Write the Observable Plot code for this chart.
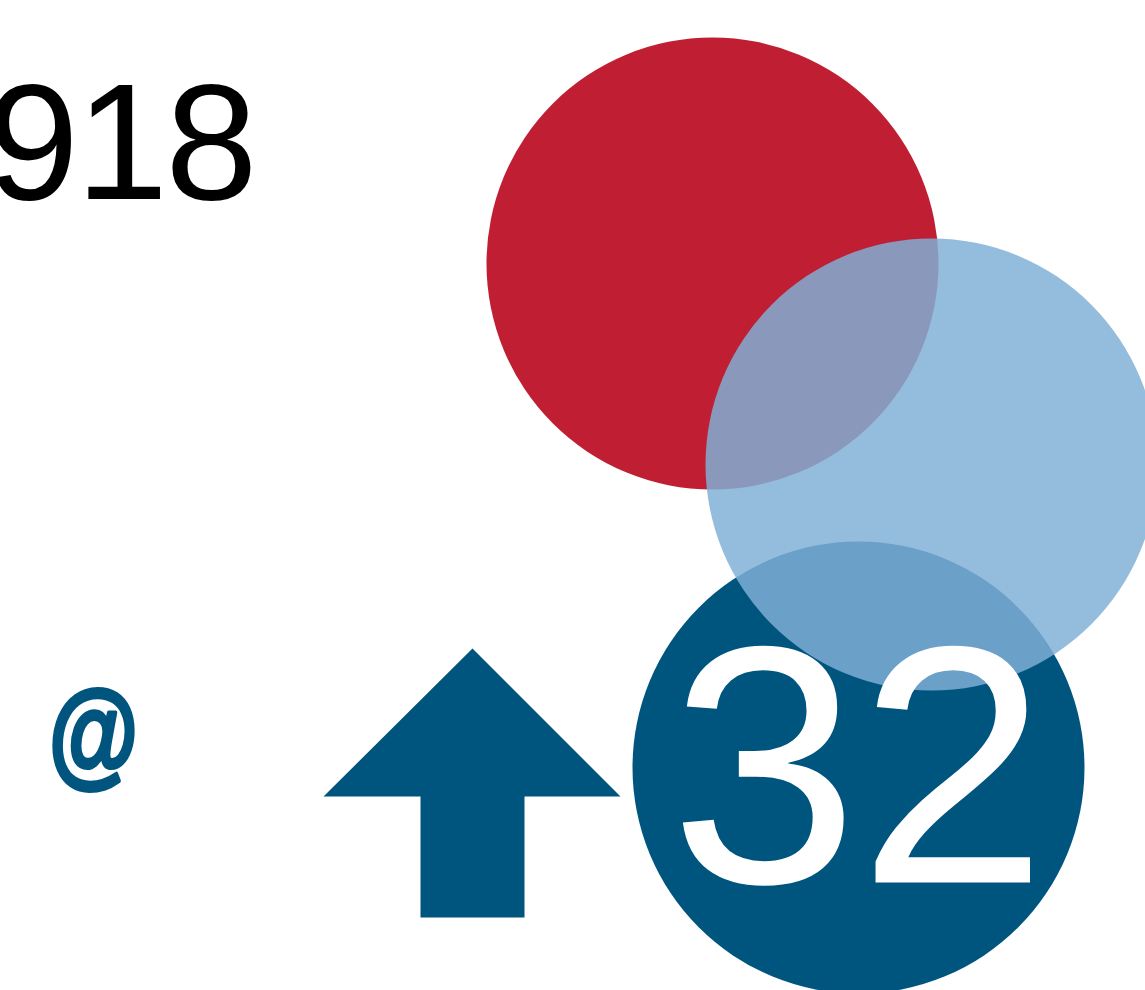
<!DOCTYPE html>
<html>
<head>
<meta charset="utf-8">
<script src="https://cdn.jsdelivr.net/npm/d3@7"></script>
<script src="https://cdn.jsdelivr.net/npm/@observablehq/plot@0.6"></script>
<style>
  html, body { margin: 0; padding: 0; background: #ffffff; }
  #chart svg { display: block; }
  g.lbl-n918 text { letter-spacing: -3px; }
</style>
</head>
<body>
<div id="chart"></div>
<script>
// Circles (drawn in order: red, dark blue, light translucent blue)
const circleNames = ["red", "darkBlue", "lightBlue"];
const circleCx = [712, 858, 931];
const circleCy = [263, 767, 464];
const circleR = [226, 226, 226];
const circleFill = ["#c01f33", "#00557f", "#80afd6"];
const circleOpacity = [1, 1, 0.84];

// Text labels
const labelText = ["918", "@", "32"];
const labelX = [254, 93, 858];
const labelY = [198, 771, 882];
const labelSize = [166, 112, 339];
const labelFill = ["#000000", "#00557f", "#ffffff"];
const labelWeight = ["normal", "bold", "normal"];

// Up arrow outline
const arrowX = [472, 620, 524, 524, 420, 420, 323, 472];
const arrowY = [648, 796, 796, 917, 917, 796, 796, 648];

const circles = circleNames.map((n, i) => ({name: n, x: circleCx[i], y: circleCy[i], r: circleR[i], fill: circleFill[i], op: circleOpacity[i]}));
const labels = labelText.map((t, i) => ({text: t, x: labelX[i], y: labelY[i], size: labelSize[i], fill: labelFill[i], weight: labelWeight[i]}));
const arrow = arrowX.map((x, i) => ({x, y: arrowY[i]}));

const W = 1145, H = 990;

const textMarks = labels.map(d => Plot.text([d], {
  x: "x", y: "y", text: "text",
  fill: d.fill, fontSize: d.size, fontWeight: d.weight,
  fontFamily: "'Liberation Sans', Arial, sans-serif",
  stroke: d.text === "@" ? d.fill : undefined,
  strokeWidth: d.text === "@" ? 4 : undefined,
  textAnchor: d.text === "918" ? "end" : "middle",
  lineAnchor: "bottom",
  className: "lbl-" + (d.text === "@" ? "at" : "n" + d.text)
}));

const chart = Plot.plot({
  width: W,
  height: H,
  margin: 0,
  x: {domain: [0, W], axis: null},
  y: {domain: [0, H], reverse: true, axis: null},
  r: {type: "identity"},
  style: {background: "#ffffff", overflow: "hidden"},
  marks: [
    Plot.line(arrow, {x: "x", y: "y", fill: "#00557f", stroke: "none", curve: "linear"}),
    Plot.dot(circles.slice(0, 2), {x: "x", y: "y", r: "r", fill: "fill", stroke: "none"}),
    Plot.dot(circles.slice(2), {x: "x", y: "y", r: "r", fill: "fill", fillOpacity: circles[2].op, stroke: "none"}),
    ...textMarks
  ]
});

// narrow the "@" glyph horizontally and stretch it slightly vertically around its anchor
const atG = chart.querySelector("g.lbl-at");
if (atG) {
  const ns = "http://www.w3.org/2000/svg";
  const wrap = document.createElementNS(ns, "g");
  const cx = labelX[1], cy = labelY[1];
  wrap.setAttribute("transform", `translate(${cx},${cy}) scale(0.82,1.04) translate(${-cx},${-cy})`);
  atG.parentNode.insertBefore(wrap, atG);
  wrap.appendChild(atG);
}
document.getElementById("chart").appendChild(chart);
</script>
</body>
</html>
